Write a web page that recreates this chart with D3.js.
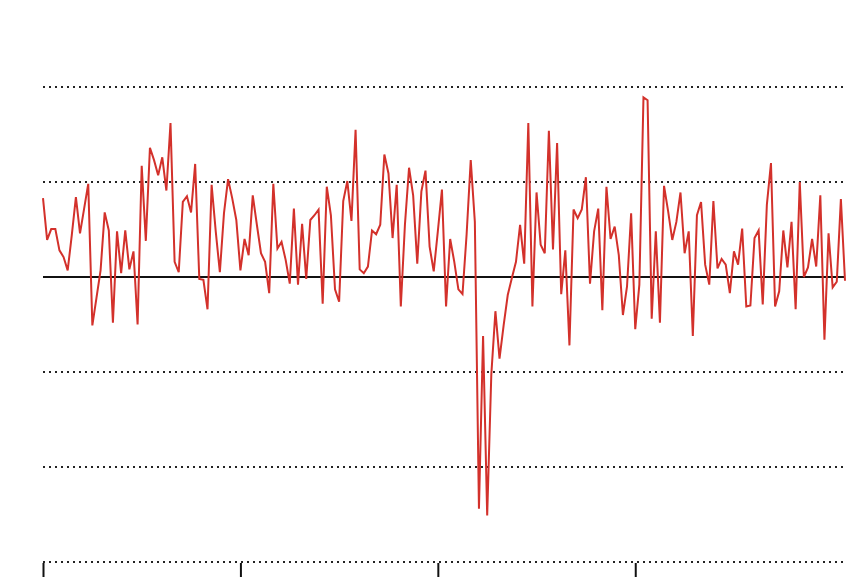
<!DOCTYPE html>
<html><head><meta charset="utf-8">
<script src="https://cdn.jsdelivr.net/npm/d3@7"></script>
<style>body{margin:0;background:#fff}svg{display:block}</style>
</head><body>
<svg id="c" width="850" height="584"></svg>
<script>
const values = [
0.83,0.39,0.505,0.505,0.28,0.21,0.07,0.44,0.84,0.46,0.72,0.98,-0.51,-0.22,0.07,0.68,0.49,-0.48,0.48,0.04,
0.49,0.08,0.27,-0.50,1.17,0.38,1.36,1.23,1.07,1.26,0.91,1.62,0.16,0.05,0.79,0.85,0.68,1.19,-0.02,-0.03,
-0.34,0.97,0.48,0.05,0.67,1.03,0.83,0.60,0.07,0.40,0.23,0.86,0.55,0.25,0.16,-0.17,0.98,0.30,0.37,0.18,
-0.07,0.72,-0.08,0.56,-0.02,0.60,0.65,0.71,-0.28,0.95,0.65,-0.13,-0.26,0.80,1.01,0.59,1.55,0.08,0.04,0.11,
0.49,0.45,0.55,1.29,1.09,0.41,0.97,-0.31,0.55,1.15,0.86,0.14,0.90,1.12,0.32,0.06,0.48,0.92,-0.31,0.40,
0.16,-0.13,-0.18,0.45,1.23,0.58,-2.44,-0.62,-2.51,-1.03,-0.36,-0.86,-0.51,-0.19,-0.01,0.16,0.55,0.14,1.62,-0.31,
0.89,0.34,0.25,1.54,0.29,1.41,-0.18,0.28,-0.72,0.71,0.62,0.71,1.05,-0.07,0.48,0.72,-0.35,0.95,0.40,0.53,
0.23,-0.40,-0.10,0.67,-0.55,-0.08,1.89,1.86,-0.44,0.48,-0.48,0.96,0.69,0.39,0.58,0.89,0.25,0.48,-0.62,0.65,
0.79,0.13,-0.08,0.80,0.09,0.19,0.13,-0.17,0.27,0.13,0.51,-0.31,-0.30,0.41,0.49,-0.29,0.76,1.20,-0.31,-0.15,
0.49,0.10,0.58,-0.34,1.00,0.00,0.10,0.40,0.11,0.86,-0.66,0.46,-0.11,-0.05,0.82,-0.04
];
const gridValues = [-3,-2,-1,1,2];
const tickIndices = [0,48,96,144];

const svg = d3.select("#c");
const x = d3.scaleLinear().domain([0, values.length-1]).range([43, 845]);
const y = d3.scaleLinear().domain([-3, 2]).range([562, 87]);

svg.append("g").selectAll("line").data(gridValues).join("line")
  .attr("x1", 43).attr("x2", 845)
  .attr("y1", d => y(d)).attr("y2", d => y(d))
  .attr("stroke", "#222").attr("stroke-width", 2)
  .attr("stroke-dasharray", "2,4");

svg.append("line").attr("x1", 43).attr("x2", 845)
  .attr("y1", y(0)).attr("y2", y(0))
  .attr("stroke", "#111").attr("stroke-width", 2);

const xAxis = d3.axisBottom(x).tickValues(tickIndices).tickSize(14).tickFormat("");
const gx = svg.append("g").attr("transform", `translate(0,${y(-3)+1})`).call(xAxis);
gx.select(".domain").remove();
gx.selectAll(".tick line").attr("stroke", "#111").attr("stroke-width", 2);

svg.append("path").datum(values)
  .attr("fill", "none").attr("stroke", "#d3312b").attr("stroke-width", 2)
  .attr("stroke-linejoin", "miter")
  .attr("d", d3.line().x((d,i) => x(i)).y(d => y(d)));
</script>
</body></html>
